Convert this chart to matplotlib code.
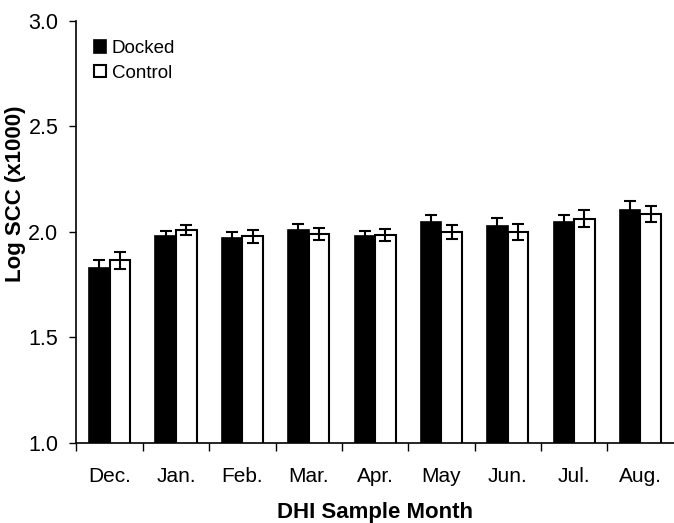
import numpy as np
import matplotlib.pyplot as plt
from matplotlib.ticker import FixedLocator

plt.rcParams['font.family'] = ['Liberation Sans', 'DejaVu Sans']

# data
months = ['Dec.', 'Jan.', 'Feb.', 'Mar.', 'Apr.', 'May', 'Jun.', 'Jul.', 'Aug.']
docked = [1.83, 1.98, 1.97, 2.01, 1.98, 2.045, 2.03, 2.046, 2.105]
docked_err = [0.035, 0.024, 0.03, 0.03, 0.025, 0.035, 0.035, 0.036, 0.04]
control = [1.865, 2.01, 1.98, 1.99, 1.985, 2.0, 2.0, 2.062, 2.084]
control_err = [0.04, 0.025, 0.03, 0.028, 0.027, 0.035, 0.04, 0.04, 0.038]

fig = plt.figure(figsize=(6.74, 5.23), dpi=100)
ax = fig.add_axes([0.1135, 0.153, 0.886, 0.807])

x = np.arange(len(months))
w = 0.31
ax.bar(x - w/2, docked, w, color='black', edgecolor='black',
       linewidth=1.2, label='Docked', zorder=2)
ax.bar(x + w/2, control, w, color='white', edgecolor='black',
       linewidth=1.5, label='Control', zorder=2)
ax.errorbar(x - w/2, docked, yerr=docked_err, fmt='none', ecolor='black',
            elinewidth=1.5, capsize=4, capthick=1.5, zorder=3)
ax.errorbar(x + w/2, control, yerr=control_err, fmt='none', ecolor='black',
            elinewidth=1.5, capsize=4, capthick=1.5, zorder=3)

ax.set_ylim(1.0, 3.0)
ax.set_xlim(-0.5, len(months) - 0.5)
ax.set_yticks([1.0, 1.5, 2.0, 2.5, 3.0])
ax.set_yticklabels(['1.0', '1.5', '2.0', '2.5', '3.0'], fontsize=15.5)

ax.set_xticks(x)
ax.set_xticklabels(months, fontsize=15)
ax.tick_params(axis='x', which='major', length=0, pad=17)
ax.xaxis.set_minor_locator(FixedLocator(np.arange(len(months)) - 0.5))
ax.tick_params(axis='x', which='minor', length=6, width=1, direction='out')
ax.tick_params(axis='y', length=5, width=1, direction='out', pad=8)

ax.spines['top'].set_visible(False)
ax.spines['right'].set_visible(False)
ax.spines['left'].set_linewidth(1.2)
ax.spines['bottom'].set_linewidth(1.2)

ax.set_ylabel('Log SCC (x1000)', fontsize=16, fontweight='bold')
ax.yaxis.set_label_coords(-0.084, 0.59)
ax.set_xlabel('DHI Sample Month', fontsize=16, fontweight='bold', labelpad=12)

ax.legend(loc='upper left', bbox_to_anchor=(0.017, 0.972), frameon=False,
          fontsize=13.5, handlelength=0.65, handleheight=0.65, handletextpad=0.3,
          labelspacing=0.4, borderaxespad=0)

plt.savefig('out.png', dpi=100)
